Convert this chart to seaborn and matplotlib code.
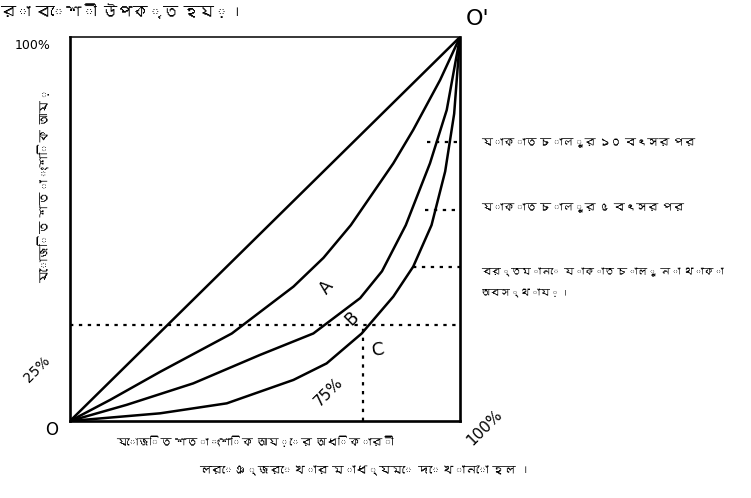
import pandas as pd
import matplotlib
matplotlib.use('Agg')
import matplotlib.pyplot as plt
import seaborn as sns
from matplotlib import font_manager
from matplotlib.ft2font import FT2Font

# cumulative share of earners (x) and income (y)
equality_x = [0, 1]
equality_y = [0, 1]

curve_a_x = [0, 0.103, 0.231, 0.415, 0.573, 0.65, 0.72, 0.829, 0.88, 0.949, 1]
curve_a_y = [0, 0.055, 0.128, 0.228, 0.350, 0.425, 0.51, 0.671, 0.758, 0.888, 1]

curve_b_x = [0, 0.145, 0.316, 0.487, 0.624, 0.744, 0.80, 0.861, 0.923, 0.966, 1]
curve_b_y = [0, 0.042, 0.098, 0.172, 0.228, 0.32, 0.39, 0.51, 0.671, 0.81, 1]

curve_c_x = [0, 0.231, 0.402, 0.573, 0.658, 0.748, 0.829, 0.880, 0.927, 0.962, 0.985, 1]
curve_c_y = [0, 0.020, 0.046, 0.107, 0.150, 0.228, 0.324, 0.402, 0.51, 0.65, 0.80, 1]

# guide levels
quarter_level = 0.25
c_point_x = 0.75
guide_y = [0.727, 0.549, 0.40]
guide_x0 = [0.915, 0.91, 0.88]
guide_labels = ['যাকাত চালুর ১০ বৎসর পর', 'যাকাত চালুর ৫ বৎসর পর', 'বর্তমানে যাকাত চালু না থাকা\nঅবস্থায়।']


def find_bengali_font():
    for path in font_manager.findSystemFonts():
        try:
            if 0x0995 in FT2Font(path).get_charmap():
                font_manager.fontManager.addfont(path)
                return font_manager.FontProperties(fname=path).get_name()
        except Exception:
            pass
    return None


sns.set_theme(style="white")
bn_font = find_bengali_font()
plt.rcParams['font.family'] = ['DejaVu Sans', bn_font] if bn_font else ['DejaVu Sans']
plt.rcParams['text.color'] = 'black'

rows = []
for name, xs, ys in [('equal', equality_x, equality_y), ('A', curve_a_x, curve_a_y),
                     ('B', curve_b_x, curve_b_y), ('C', curve_c_x, curve_c_y)]:
    for x, y in zip(xs, ys):
        rows.append({'curve': name, 'x': x, 'y': y})
df = pd.DataFrame(rows)

fig = plt.figure(figsize=(7.51, 4.98), dpi=100)
ax = fig.add_axes([70 / 751, 77 / 498, 390 / 751, 384 / 498])

sns.lineplot(data=df, x='x', y='y', hue='curve', palette=['black'] * 4,
             estimator=None, sort=False, linewidth=1.8, legend=False, ax=ax)

dots = (0, (1.5, 2.5))
ax.plot([0, 1], [quarter_level, quarter_level], color='black', linestyle=dots, linewidth=1.6)
ax.plot([c_point_x, c_point_x], [0, quarter_level], color='black', linestyle=dots, linewidth=1.6)
for gx, gy in zip(guide_x0, guide_y):
    ax.plot([gx, 1], [gy, gy], color='black', linestyle=dots, linewidth=1.6)

ax.set_xlim(0, 1)
ax.set_ylim(0, 1)
ax.set_xticks([])
ax.set_yticks([])
ax.set_xlabel('')
ax.set_ylabel('')
for side, spine in ax.spines.items():
    spine.set_visible(True)
    spine.set_color('black')
    spine.set_linewidth(1.1 if side == 'top' else 1.9)

# curve labels
ax.text(0.659, 0.349, 'A', fontsize=12, rotation=50, ha='center', va='center')
ax.text(0.723, 0.268, 'B', fontsize=12, rotation=45, ha='center', va='center')
ax.text(0.79, 0.185, 'C', fontsize=13, rotation=10, ha='center', va='center')
ax.text(0.662, 0.076, '75%', fontsize=11, rotation=45, ha='center', va='center')

# corner and axis texts
kw = dict(clip_on=False, ha='center', va='center')
ax.text(-0.18, 1.065, 'রা বেশী উপকৃত হয়।', fontsize=11, fontweight='bold', clip_on=False, ha='left', va='center')
ax.text(-0.097, 0.979, '100%', fontsize=9, **kw)
ax.text(-0.064, 0.615, 'যোজিত শতাংশিক আয়', fontsize=9, rotation=90, **kw)
ax.text(-0.085, 0.135, '25%', fontsize=10, rotation=45, **kw)
ax.text(-0.046, -0.023, 'O', fontsize=12, **kw)
ax.text(1.046, 1.047, "O'", fontsize=16, **kw)
ax.text(1.064, -0.018, '100%', fontsize=11, rotation=45, **kw)
ax.text(0.474, -0.055, 'যোজিত শতাংশিক আয়ের অধিকারী', fontsize=8, **kw)
ax.text(0.756, -0.130, 'লরেঞ্জরেখার মাধ্যমে দেখানো হল ।', fontsize=8.5, **kw)

label_y = [0.724, 0.555, 0.36]
label_size = [8, 8, 7.2]
for ly, size, text in zip(label_y, label_size, guide_labels):
    ax.text(1.054, ly, text, fontsize=size, clip_on=False, ha='left', va='center', linespacing=2.3)

plt.savefig('out.png', dpi=100)
plt.close()
